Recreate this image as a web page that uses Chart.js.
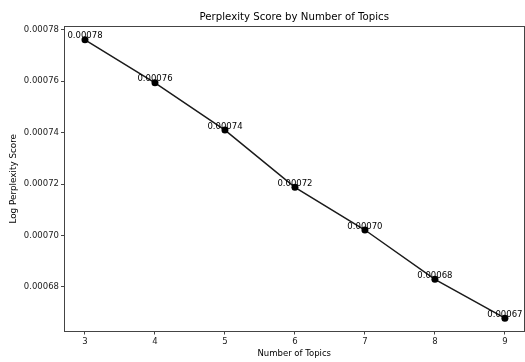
<!DOCTYPE html>
<html>
<head>
<meta charset="utf-8">
<script src="https://cdn.jsdelivr.net/npm/chart.js@4"></script>
<style>
html,body{margin:0;padding:0;background:#fff;}
#wrap{width:525px;height:362px;position:relative;}
</style>
</head>
<body>
<div id="wrap"><canvas id="c" width="525" height="362"></canvas></div>
<script>
const topics = [3, 4, 5, 6, 7, 8, 9];
const perplexity = [0.0007761, 0.0007594, 0.0007410, 0.0007187, 0.0007021, 0.0006829, 0.0006678];
const xTicks = [3, 4, 5, 6, 7, 8, 9];
const yTicks = [0.00068, 0.00070, 0.00072, 0.00074, 0.00076, 0.00078];
const chartTitle = 'Perplexity Score by Number of Topics';

const FONT = "'DejaVu Sans', sans-serif";
const ink = '#222';
const axisColor = '#444';

const frame = {
  id: 'frame',
  afterDraw(chart) {
    const {ctx, chartArea: a} = chart;
    ctx.save();
    ctx.strokeStyle = axisColor;
    ctx.lineWidth = 1;
    ctx.strokeRect(Math.round(a.left) + 0.5, Math.round(a.top) + 0.5, Math.round(a.right - a.left) - 1, Math.round(a.bottom - a.top) - 1);
    ctx.font = '10.2px ' + FONT;
    ctx.fillStyle = '#000';
    ctx.textAlign = 'center';
    ctx.textBaseline = 'middle';
    ctx.fillText(chartTitle, (a.left + a.right) / 2, 17);
    ctx.restore();
  }
};

const labels = {
  id: 'pointLabels',
  afterDatasetsDraw(chart) {
    const {ctx} = chart;
    const meta = chart.getDatasetMeta(0);
    ctx.save();
    ctx.font = '8.5px ' + FONT;
    ctx.fillStyle = '#000';
    ctx.textAlign = 'center';
    ctx.textBaseline = 'alphabetic';
    meta.data.forEach((pt, i) => {
      ctx.fillText(perplexity[i].toFixed(5), pt.x, pt.y - 1.5);
    });
    ctx.restore();
  }
};

new Chart(document.getElementById('c'), {
  type: 'line',
  data: {
    datasets: [{
      data: topics.map((t, i) => ({x: t, y: perplexity[i]})),
      borderColor: '#1a1a1a',
      backgroundColor: '#000',
      borderWidth: 1.5,
      pointRadius: 3.5,
      pointBorderWidth: 0,
      pointBackgroundColor: '#000',
      tension: 0,
      clip: false
    }]
  },
  options: {
    responsive: false,
    animation: false,
    devicePixelRatio: 1,
    layout: {autoPadding: false, padding: {left: 0, right: 0.5, top: 26, bottom: 0}},
    plugins: {
      legend: {display: false},
      tooltip: {enabled: false},
      title: {display: false}
    },
    scales: {
      x: {
        type: 'linear',
        min: 2.7,
        max: 9.28,
        afterFit(s) { s.height = 30.5; },
        afterBuildTicks(s) { s.ticks = xTicks.map(v => ({value: v})); },
        ticks: {color: ink, font: {family: FONT, size: 8.5}, padding: 2, maxRotation: 0,
          callback: v => String(v)},
        grid: {display: true, drawOnChartArea: false, drawTicks: true, tickLength: 3, color: axisColor},
        border: {display: true, color: axisColor},
        title: {display: true, text: 'Number of Topics', color: '#000',
          font: {family: FONT, size: 8.5}, padding: {top: 0, bottom: 3}}
      },
      y: {
        type: 'linear',
        min: 0.0006626,
        max: 0.0007815,
        afterFit(s) { s.width = 64; },
        afterBuildTicks(s) { s.ticks = yTicks.map(v => ({value: v})); },
        ticks: {color: ink, font: {family: FONT, size: 8.5}, padding: 2,
          callback: v => Number(v).toFixed(5)},
        grid: {display: true, drawOnChartArea: false, drawTicks: true, tickLength: 3, color: axisColor},
        border: {display: true, color: axisColor},
        title: {display: true, text: 'Log Perplexity Score', color: '#000',
          font: {family: FONT, size: 8.8}, padding: {top: 8, bottom: 0}}
      }
    }
  },
  plugins: [frame, labels]
});
</script>
</body>
</html>
